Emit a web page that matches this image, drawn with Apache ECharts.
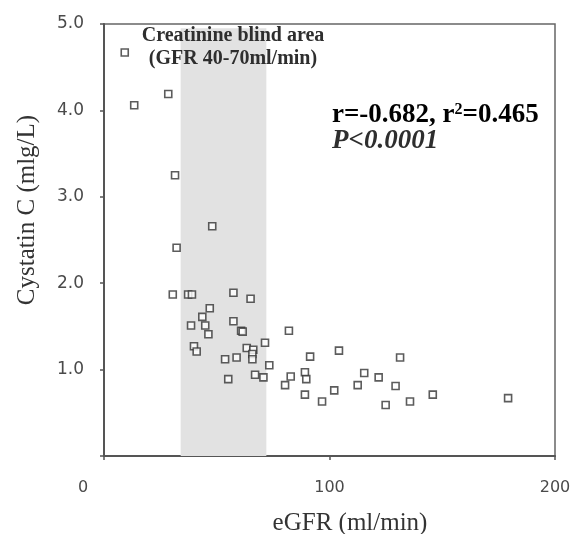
<!DOCTYPE html>
<html>
<head>
<meta charset="utf-8">
<script src="https://cdn.jsdelivr.net/npm/echarts@6/dist/echarts.min.js"></script>
<style>
  html, body { margin: 0; padding: 0; background: #fff; }
  #chart { width: 578px; height: 534px; }
</style>
</head>
<body>
<div id="chart"></div>
<script>
// eGFR (ml/min) and serum cystatin C (mg/L), one entry per patient
const egfr = [
  9.2, 13.4, 28.5, 31.5, 32.2, 48.0, 30.5, 37.3, 39.0, 57.4,
  65.0, 46.9, 43.6, 38.6, 44.9, 57.4, 46.3, 60.8, 61.5, 39.9,
  41.1, 63.3, 66.2, 65.8, 65.8, 71.4, 53.7, 58.8, 73.3, 55.1,
  67.0, 70.7, 82.0, 91.4, 80.3, 82.8, 89.1, 89.7, 89.1, 96.7,
  104.2, 102.1, 115.4, 112.5, 121.8, 131.3, 129.3, 124.9, 135.7, 145.8,
  179.2
];
const cystatinC = [
  4.67, 4.06, 4.19, 3.25, 2.41, 2.66, 1.87, 1.87, 1.87, 1.89,
  1.82, 1.71, 1.61, 1.51, 1.51, 1.56, 1.41, 1.45, 1.44, 1.27,
  1.21, 1.25, 1.23, 1.18, 1.12, 1.31, 1.12, 1.14, 1.05, 0.89,
  0.94, 0.91, 1.45, 1.15, 0.82, 0.92, 0.97, 0.89, 0.71, 0.63,
  1.22, 0.76, 0.96, 0.82, 0.91, 1.14, 0.81, 0.59, 0.63, 0.71,
  0.67
];
// creatinine blind range as drawn on the eGFR axis
const blindArea = [34, 72];
const xTicks = [0, 100, 200];
const yTicks = [0, 1, 2, 3, 4, 5];

const points = egfr.map((x, i) => [x, cystatinC[i]]);

const chart = echarts.init(document.getElementById('chart'), null, { renderer: 'canvas' });

const axisColor = '#555';
const labelFont = { fontFamily: 'DejaVu Sans', fontSize: 16, color: '#4a4a4a' };

chart.setOption({
  animation: false,
  backgroundColor: '#fff',
  grid: {
    left: 104, right: 23, top: 24, bottom: 78,
    show: true, borderColor: '#666', borderWidth: 1.5, backgroundColor: 'transparent'
  },
  xAxis: {
    type: 'value',
    min: xTicks[0], max: xTicks[xTicks.length - 1], interval: 100,
    splitLine: { show: false },
    axisLine: { show: true, lineStyle: { color: axisColor, width: 2 } },
    axisTick: { show: true, length: 4, lineStyle: { color: axisColor, width: 1.5 } },
    axisLabel: {
      margin: 24,
      ...labelFont,
      formatter: v => v === 0 ? '{o|0}' : String(v),
      rich: { o: { ...labelFont, padding: [0, 42, 0, 0] } }
    }
  },
  yAxis: {
    type: 'value',
    min: yTicks[0], max: yTicks[yTicks.length - 1], interval: 1,
    splitLine: { show: false },
    axisLine: { show: true, lineStyle: { color: axisColor, width: 2 } },
    axisTick: { show: true, length: 4, lineStyle: { color: axisColor, width: 1.5 } },
    axisLabel: {
      margin: 20,
      ...labelFont,
      fontSize: 17,
      formatter: v => v === 0 ? '' : v.toFixed(1)
    }
  },
  series: [{
    type: 'scatter',
    data: points,
    symbol: 'rect',
    symbolSize: 7,
    itemStyle: { color: '#fff', borderColor: '#333', borderWidth: 1.6 },
    markArea: {
      silent: true,
      itemStyle: { color: '#e2e2e2' },
      data: [[{ coord: [blindArea[0], 0] }, { coord: [blindArea[1], 4.95] }]]
    },
    z: 3
  }],
  graphic: [
    {
      type: 'text', x: 350, y: 523,
      style: {
        text: 'eGFR (ml/min)', x: 0, y: 0,
        fontFamily: 'Liberation Serif', fontSize: 25, fill: '#333',
        align: 'center', verticalAlign: 'middle'
      }
    },
    {
      type: 'text', x: 27, y: 210, rotation: Math.PI / 2,
      style: {
        text: 'Cystatin C (mlg/L)', x: 0, y: 0,
        fontFamily: 'Liberation Serif', fontSize: 25, fill: '#333',
        align: 'center', verticalAlign: 'middle'
      }
    },
    {
      type: 'text', x: 233, y: 47, z: 10,
      style: {
        text: 'Creatinine blind area\n(GFR 40-70ml/min)',
        fontFamily: 'Liberation Serif', fontWeight: 'bold', fontSize: 20, lineHeight: 23,
        fill: '#2e2e2e', align: 'center', verticalAlign: 'middle'
      }
    },
    {
      type: 'text', x: 332, y: 115, z: 10,
      style: {
        text: '{t|r=-0.682, r}{s|2}{t|=0.465}',
        verticalAlign: 'middle', align: 'left',
        rich: {
          t: { fontFamily: 'Liberation Serif', fontWeight: 'bold', fontSize: 27, color: '#2e2e2e' },
          s: { fontFamily: 'Liberation Serif', fontWeight: 'bold', fontSize: 16, color: '#2e2e2e', verticalAlign: 'top', padding: [0, 0, 10, 0] }
        }
      }
    },
    {
      type: 'text', x: 332, y: 141, z: 10,
      style: {
        text: 'P<0.0001',
        fontFamily: 'Liberation Serif', fontWeight: 'bold', fontStyle: 'italic', fontSize: 27,
        fill: '#2e2e2e', align: 'left', verticalAlign: 'middle'
      }
    }
  ]
});
</script>
</body>
</html>
